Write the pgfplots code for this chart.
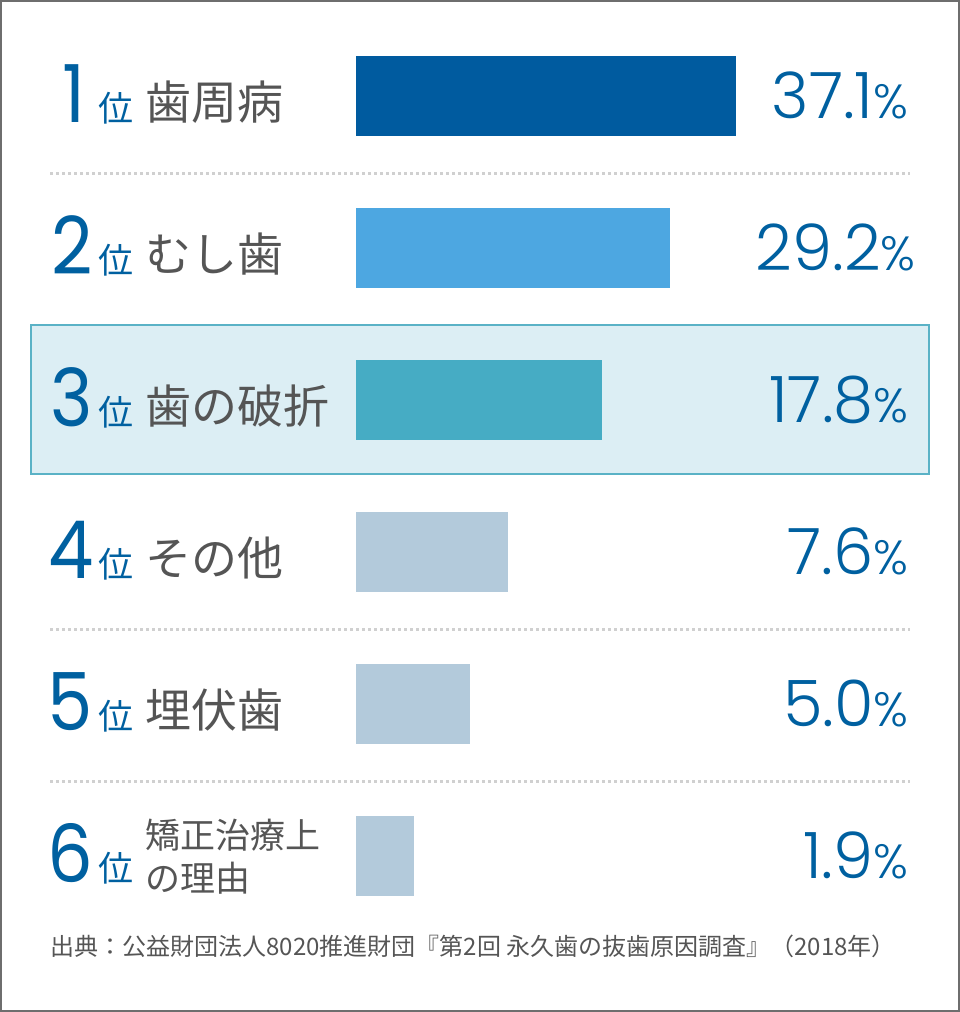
\documentclass[border=0pt]{standalone}
\usepackage{pgfplots}
\pgfplotsset{compat=1.18}
\usepackage{fontspec}
\setmainfont{Noto Sans CJK JP}
\newfontfamily\numfont[FakeStretch=0.9]{Poppins}
\newfontfamily\pcfont{Poppins Light}
\definecolor{dblue}{HTML}{005B9F}
\definecolor{mblue}{HTML}{4DA7E1}
\definecolor{tealb}{HTML}{46ACC4}
\definecolor{pale}{HTML}{B3CADB}
\definecolor{hl}{HTML}{DCEEF4}
\definecolor{hlb}{HTML}{5AB2C6}
\definecolor{txt}{HTML}{555555}
\definecolor{framec}{HTML}{6E6E6E}
\definecolor{dotc}{HTML}{D0D0D0}
\definecolor{numc}{HTML}{0060A0}
\newcommand{\rk}[1]{{\numfont\fontsize{80}{80}\selectfont #1}}
\newcommand{\pc}[1]{{\pcfont\fontsize{64}{64}\selectfont #1{\fontsize{48}{48}\selectfont\%}}}
\newcommand{\rank}[3]{%
  \node[anchor=base east,text=numc] at (axis cs:#3,#2+26) {\rk{#1}};
  \node[anchor=base west,text=numc] at (axis cs:-261,#2+25) {\fontsize{35}{35}\selectfont 位};}
\begin{document}
\begin{tikzpicture}
\begin{axis}[width=960pt,height=1012pt,scale only axis,
  xmin=-356,xmax=604,ymin=0,ymax=1012,y dir=reverse,
  axis lines=none,clip=false,
  every node/.style={inner sep=0pt,outer sep=0pt}]
% frame
\draw[framec,line width=2pt] (axis cs:-355,1) rectangle (axis cs:603,1011);
% highlight row 3
\draw[hlb,fill=hl,line width=1.5pt] (axis cs:-325,325) rectangle (axis cs:573,474);
% separators
\draw[dotc,line width=3pt,dash pattern=on 3pt off 3pt] (axis cs:-306,173) -- (axis cs:554,173);
\draw[dotc,line width=3pt,dash pattern=on 3pt off 3pt] (axis cs:-306,629) -- (axis cs:554,629);
\draw[dotc,line width=3pt,dash pattern=on 3pt off 3pt] (axis cs:-306,781) -- (axis cs:554,781);
% bars (length in px, from the picture)
\addplot[xbar,bar shift=0pt,bar width=80,fill=dblue,draw=none] coordinates {(380,96)};
\addplot[xbar,bar shift=0pt,bar width=80,fill=mblue,draw=none] coordinates {(314,248)};
\addplot[xbar,bar shift=0pt,bar width=80,fill=tealb,draw=none] coordinates {(246,400)};
\addplot[xbar,bar shift=0pt,bar width=80,fill=pale,draw=none] coordinates {(152,552)};
\addplot[xbar,bar shift=0pt,bar width=80,fill=pale,draw=none] coordinates {(114,704)};
\addplot[xbar,bar shift=0pt,bar width=80,fill=pale,draw=none] coordinates {(58,856)};
% ranks
\rank{1}{96}{-267}
\rank{2}{248}{-260}
\rank{3}{400}{-260}
\rank{4}{552}{-259}
\rank{5}{704}{-260}
\rank{6}{856}{-259}
% labels
\node[anchor=base west,text=txt] at (axis cs:-214,119) {\fontsize{46}{46}\selectfont 歯周病};
\node[anchor=base west,text=txt] at (axis cs:-214,271) {\fontsize{46}{46}\selectfont むし歯};
\node[anchor=base west,text=txt] at (axis cs:-214,423) {\fontsize{46}{46}\selectfont 歯の破折};
\node[anchor=base west,text=txt] at (axis cs:-214,575) {\fontsize{46}{46}\selectfont その他};
\node[anchor=base west,text=txt] at (axis cs:-214,727) {\fontsize{46}{46}\selectfont 埋伏歯};
\node[anchor=base west,text=txt] at (axis cs:-214,848) {\fontsize{35}{35}\selectfont 矯正治療上};
\node[anchor=base west,text=txt] at (axis cs:-214,891) {\fontsize{35}{35}\selectfont の理由};
% percentages
\node[anchor=base east,text=numc] at (axis cs:556,118) {\pc{37.1}};
\node[anchor=base east,text=numc] at (axis cs:563,270) {\pc{29.2}};
\node[anchor=base east,text=numc] at (axis cs:556,422) {\pc{17.8}};
\node[anchor=base east,text=numc] at (axis cs:556,574) {\pc{7.6}};
\node[anchor=base east,text=numc] at (axis cs:556,726) {\pc{5.0}};
\node[anchor=base east,text=numc] at (axis cs:556,878) {\pc{1.9}};
% source
\node[anchor=base west,text=txt] at (axis cs:-309,955) {\fontsize{24}{24}\selectfont 出典：公益財団法人8020推進財団『第2回 永久歯の抜歯原因調査』（2018年）};
\end{axis}
\end{tikzpicture}
\end{document}
